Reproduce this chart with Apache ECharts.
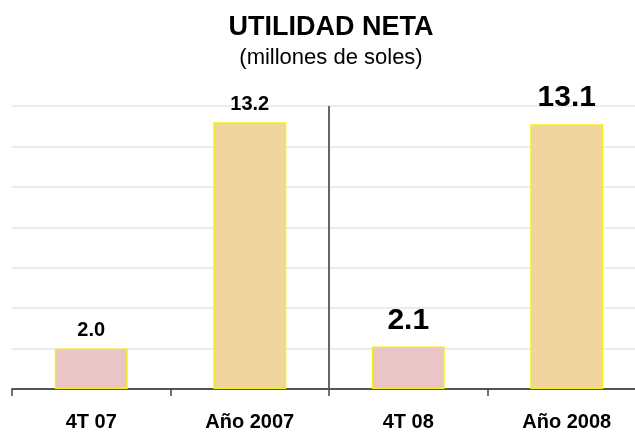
<!DOCTYPE html>
<html><head><meta charset="utf-8">
<script src="https://cdn.jsdelivr.net/npm/echarts@6/dist/echarts.min.js"></script>
<style>html,body{margin:0;padding:0;background:#fff;overflow:hidden;width:635px;height:432px}#c{width:646px;height:432px}</style>
</head><body><div id="c"></div>
<script>
const categories = ['4T 07', 'Año 2007', '4T 08', 'Año 2008'];
const values = [2.0, 13.2, 2.1, 13.1];
const yTicks = [0, 2, 4, 6, 8, 10, 12, 14];

const pink = '#e9c5c5', tan = '#f1d59f';
const fills = [pink, tan, pink, tan];
const labelSizes = [20, 20, 30, 30];
const labelDist = [8, 8, 11, 11];

const chart = echarts.init(document.getElementById('c'), null, {renderer: 'canvas'});
const F = 'Liberation Sans, Arial, sans-serif';
chart.setOption({
  animation: false,
  title: {
    text: 'UTILIDAD NETA',
    subtext: '(millones de soles)',
    left: 326, textAlign: 'center', top: 9, itemGap: 6,
    textStyle: {fontFamily: F, fontSize: 27, fontWeight: 'bold', color: '#000'},
    subtextStyle: {fontFamily: F, fontSize: 22, color: '#000'}
  },
  grid: {left: 12, top: 106, right: 0, height: 287, containLabel: false},
  xAxis: [{
    type: 'category', data: categories,
    axisLine: {lineStyle: {color: '#222', width: 1.5}},
    axisTick: {show: true, length: 7, lineStyle: {color: '#444', width: 1.5}},
    axisLabel: {fontFamily: F, fontSize: 20, fontWeight: 'bold', color: '#000', margin: 23}
  }, {
    type: 'value', min: 0, max: 4, show: false
  }],
  yAxis: {
    type: 'value', min: yTicks[0], max: yTicks[yTicks.length - 1], interval: 2,
    axisLine: {show: false}, axisTick: {show: false}, axisLabel: {show: false},
    splitLine: {lineStyle: {color: '#e6e6e6', width: 1.5}}
  },
  series: [{
    type: 'bar',
    barWidth: '46%',
    data: values.map((v, i) => ({
      value: v,
      itemStyle: {color: fills[i], borderColor: '#f5ee10', borderWidth: 1.5},
      label: {fontSize: labelSizes[i], distance: labelDist[i]}
    })),
    label: {
      show: true, position: 'top', fontFamily: F, fontWeight: 'bold', color: '#000',
      formatter: p => p.value.toFixed(1)
    }
  }, {
    type: 'line', xAxisIndex: 1, data: [], silent: true,
    markLine: {
      symbol: 'none', silent: true, label: {show: false},
      lineStyle: {color: '#666', width: 2, type: 'solid'},
      data: [{xAxis: 2}]
    }
  }]
});
</script></body></html>
